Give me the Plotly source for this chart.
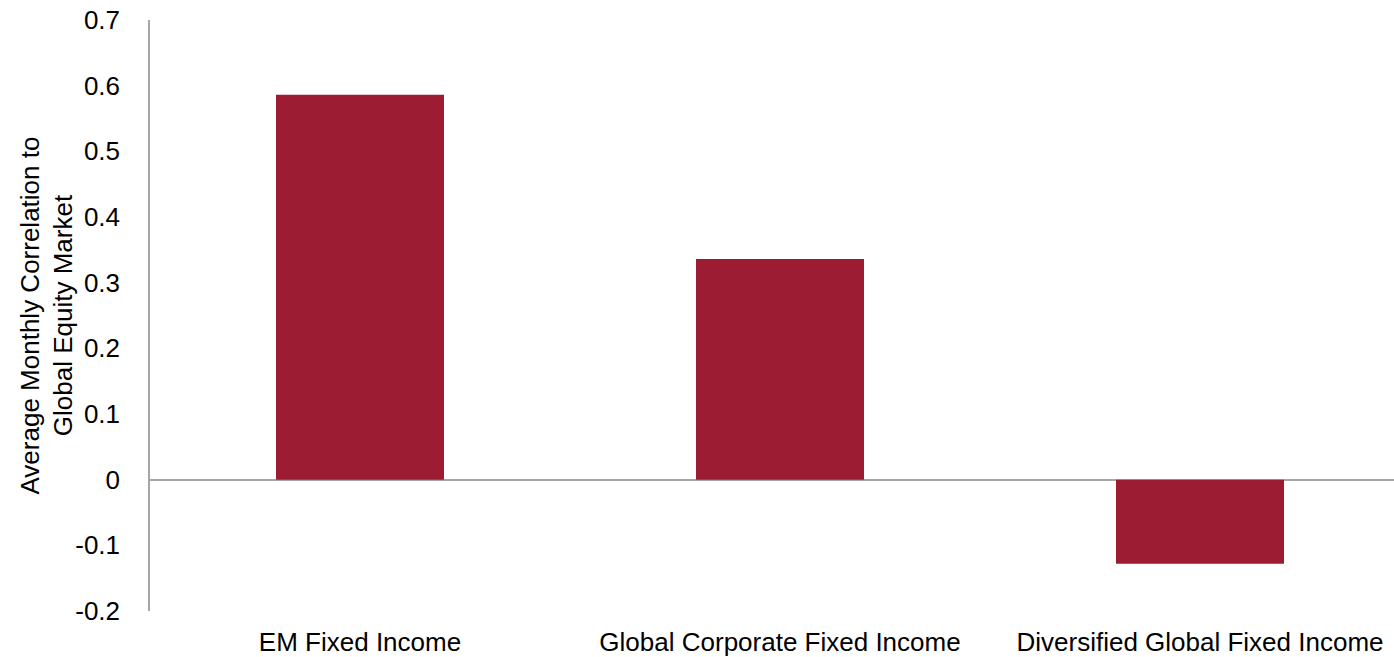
import plotly.graph_objects as go

# Asset classes and their average monthly correlation to global equities
categories = ["EM Fixed Income", "Global Corporate Fixed Income", "Diversified Global Fixed Income"]
correlations = [0.586, 0.336, -0.128]

y_ticks = [-0.2, -0.1, 0, 0.1, 0.2, 0.3, 0.4, 0.5, 0.6, 0.7]
y_tick_labels = ["-0.2", "-0.1", "0", "0.1", "0.2", "0.3", "0.4", "0.5", "0.6", "0.7"]
y_title = "Average Monthly Correlation to<br>Global Equity Market"

BAR_COLOR = "#9C1C33"
AXIS_COLOR = "#A6A6A6"
FONT = "Liberation Sans, Arial, sans-serif"
FONT_SIZE = 26
LEFT = 150
PLOT_W = 1244

fig = go.Figure(
    go.Bar(
        x=categories,
        y=correlations,
        width=0.4,
        marker=dict(color=BAR_COLOR, line=dict(width=0)),
        hoverinfo="x+y",
    )
)

fig.update_layout(
    width=1394,
    height=657,
    margin=dict(l=LEFT, r=0, t=20, b=46),
    paper_bgcolor="white",
    plot_bgcolor="white",
    showlegend=False,
    font=dict(family=FONT, size=FONT_SIZE, color="#000000"),
)

fig.update_xaxes(
    type="category",
    range=[-0.5, -0.5 + PLOT_W / 420],
    showgrid=False,
    showline=False,
    ticks="",
    ticklabelstandoff=13,
    tickfont=dict(size=FONT_SIZE),
)

fig.update_yaxes(
    range=[-0.2, 0.7],
    tickvals=y_ticks,
    ticktext=y_tick_labels,
    showgrid=False,
    showline=True,
    linecolor=AXIS_COLOR,
    linewidth=1.5,
    zeroline=True,
    zerolinecolor=AXIS_COLOR,
    zerolinewidth=2,
    ticks="",
    ticklabelstandoff=23,
    tickfont=dict(size=FONT_SIZE),
)

# Two-line rotated axis title placed to the left of the tick labels
fig.add_annotation(
    text=y_title,
    xref="paper",
    yref="paper",
    x=(46 - LEFT) / PLOT_W,
    y=0.5,
    xanchor="center",
    yanchor="middle",
    textangle=-90,
    showarrow=False,
    font=dict(family=FONT, size=FONT_SIZE, color="#000000"),
)

fig.write_html("out.html")
